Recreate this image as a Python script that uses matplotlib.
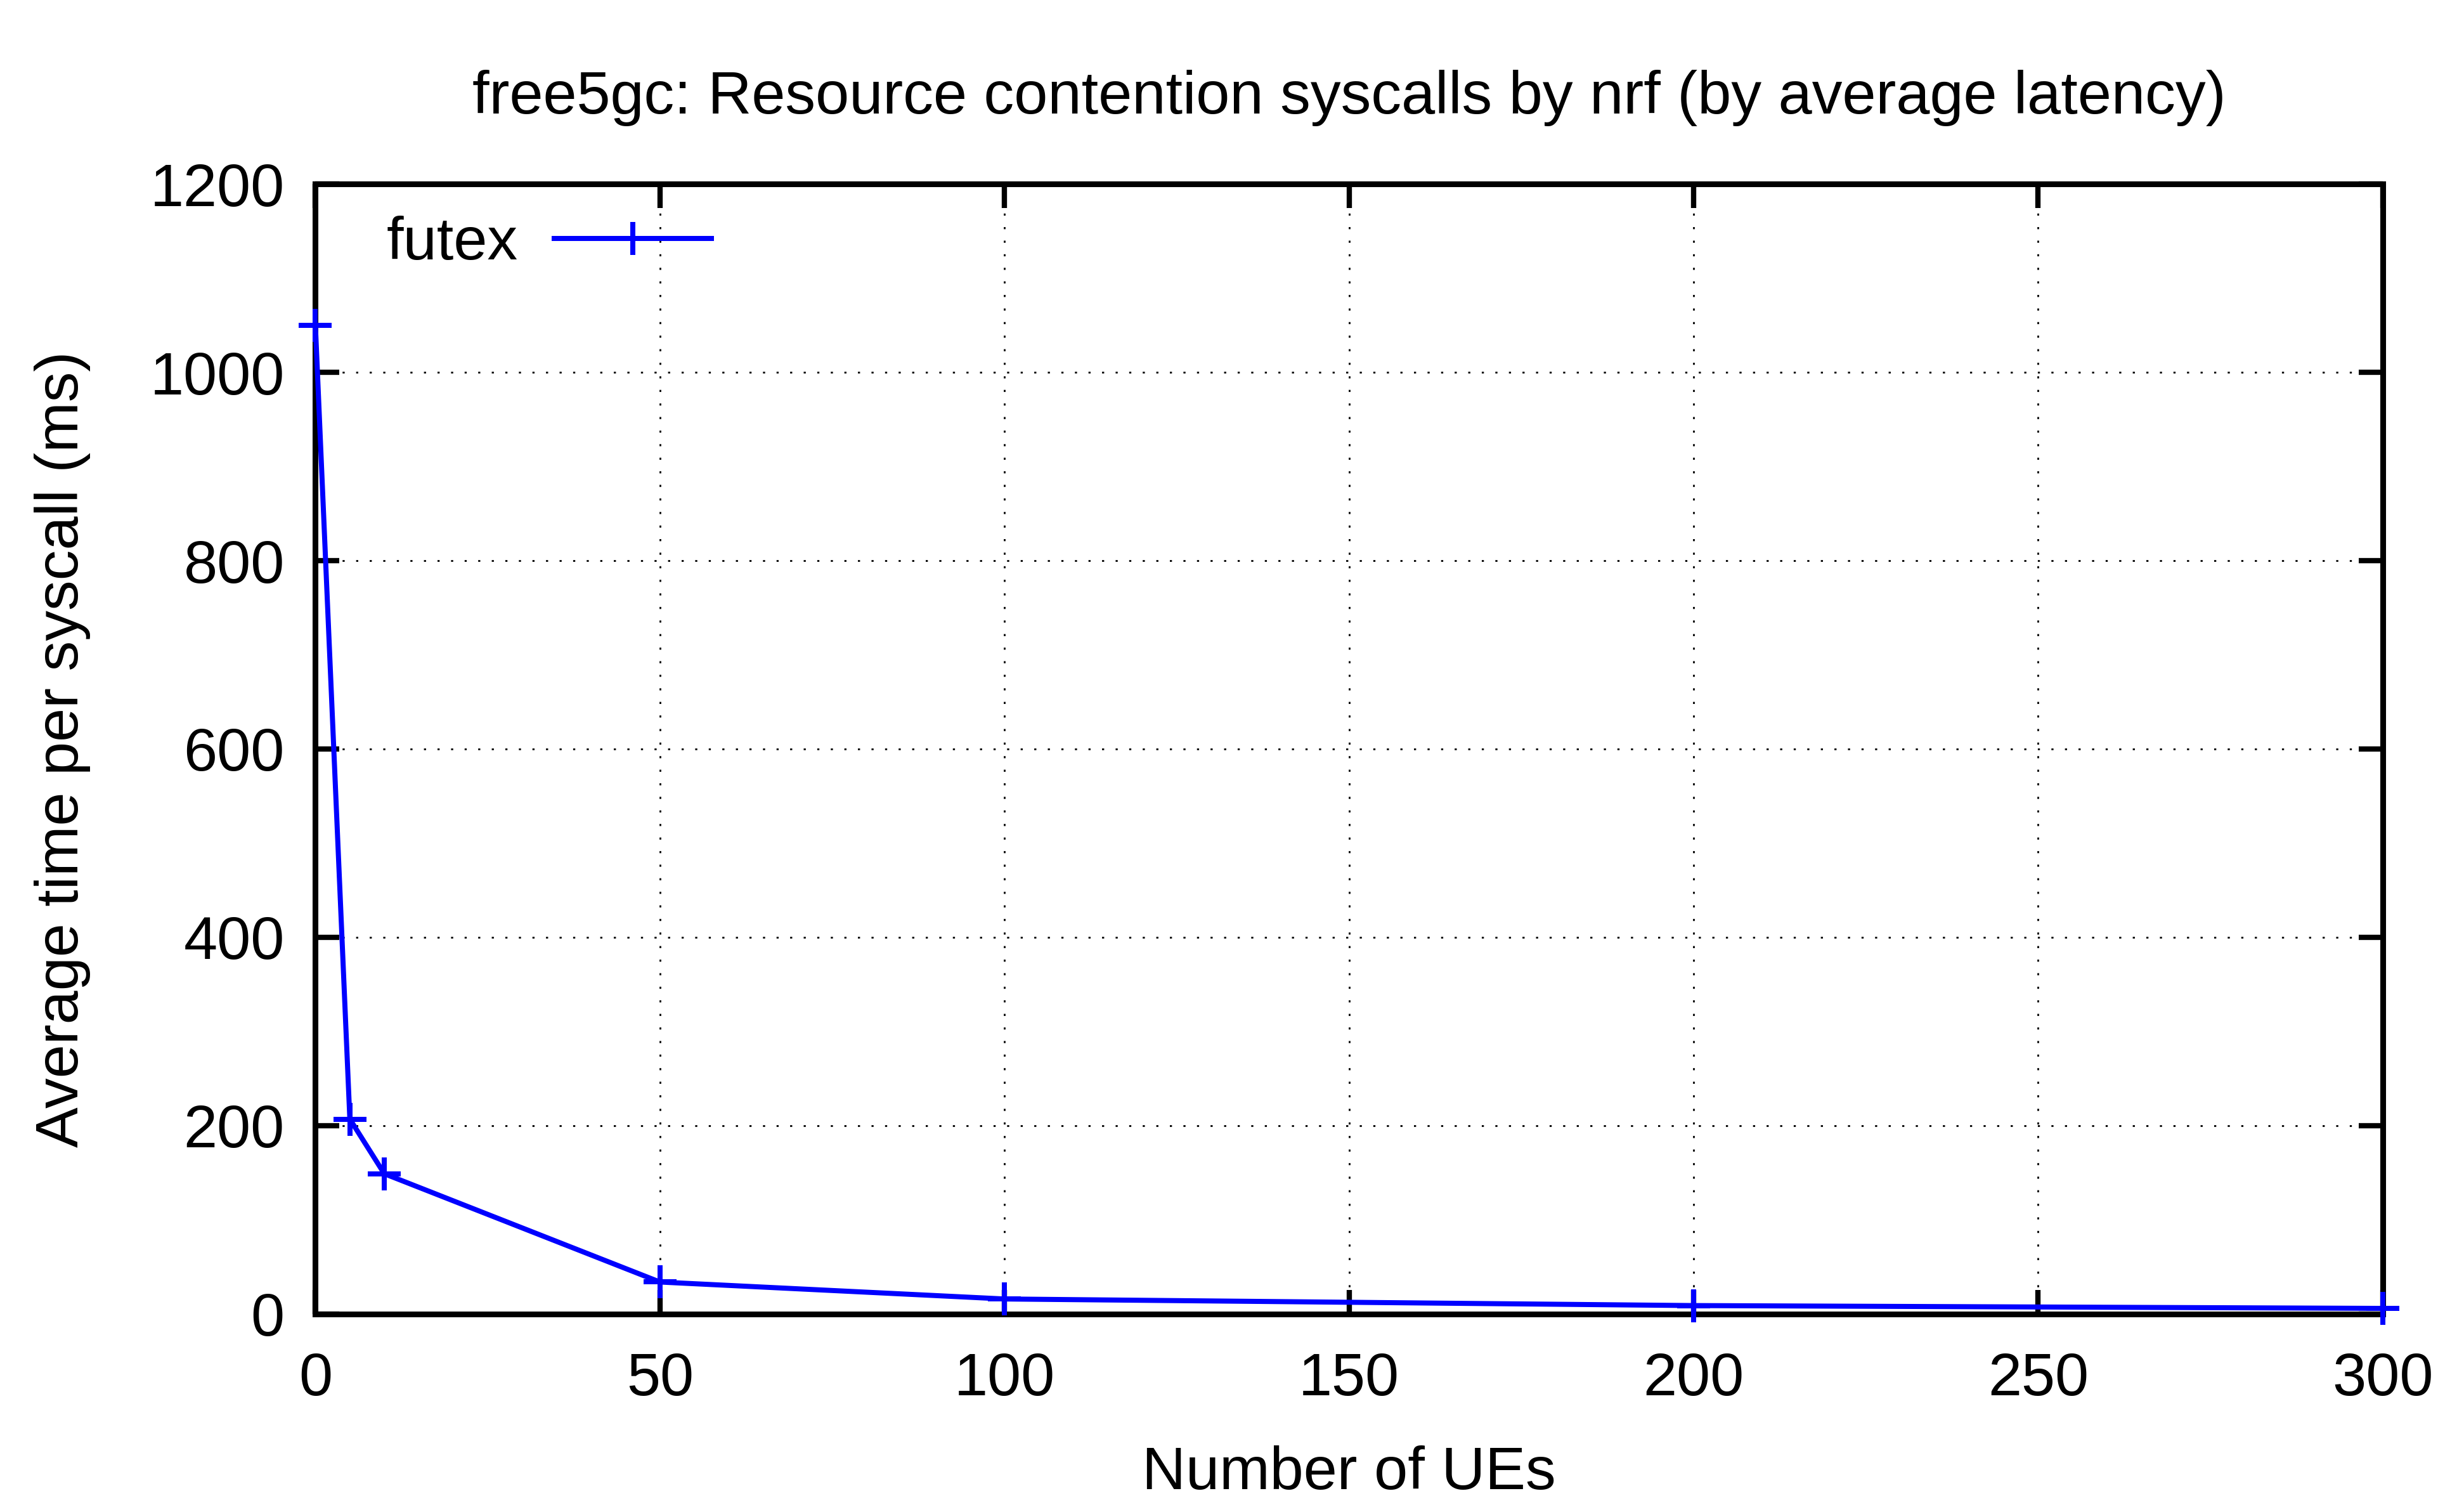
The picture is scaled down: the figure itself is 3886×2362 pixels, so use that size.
import matplotlib
matplotlib.use("Agg")
import matplotlib.pyplot as plt

# data
ues = [0, 5, 10, 50, 100, 200, 300]
futex_ms = [1050, 207, 149, 34, 16, 9, 6]
x_ticks = [0, 50, 100, 150, 200, 250, 300]
y_ticks = [0, 200, 400, 600, 800, 1000, 1200]

plt.rcParams['font.family'] = ['Liberation Sans', 'DejaVu Sans']
fs = 27.5

fig = plt.figure(figsize=(15.544, 9.448), dpi=250)
ax = fig.add_axes([0.128, 0.1228, 0.839, 0.7544])

ax.plot(ues, futex_ms, color="#0000ff", lw=2.3, marker="+", markersize=15,
        markeredgewidth=2.3, clip_on=False, label="futex", zorder=3)

ax.set_xlim(0, 300)
ax.set_ylim(0, 1200)
ax.set_xticks(x_ticks)
ax.set_yticks(y_ticks)
ax.tick_params(direction="in", length=11, width=2.4, labelsize=fs,
               top=True, right=True, pad=14)
ax.tick_params(axis="x", pad=17)
for s in ax.spines.values():
    s.set_linewidth(2.6)

ax.grid(True, color="black", lw=0.8, linestyle=(0, (1.2, 6.5)))
ax.set_axisbelow(True)

ax.set_title("free5gc: Resource contention syscalls by nrf (by average latency)",
             fontsize=fs, pad=32)
ax.set_xlabel("Number of UEs", fontsize=fs, labelpad=17)
ax.set_ylabel("Average time per syscall (ms)", fontsize=fs, labelpad=27)

ax.legend(loc="upper left", bbox_to_anchor=(0.008, 1.02), frameon=False,
          fontsize=fs, markerfirst=False, handlelength=2.6, handletextpad=0.6)

fig.savefig("out.png", dpi=250)
